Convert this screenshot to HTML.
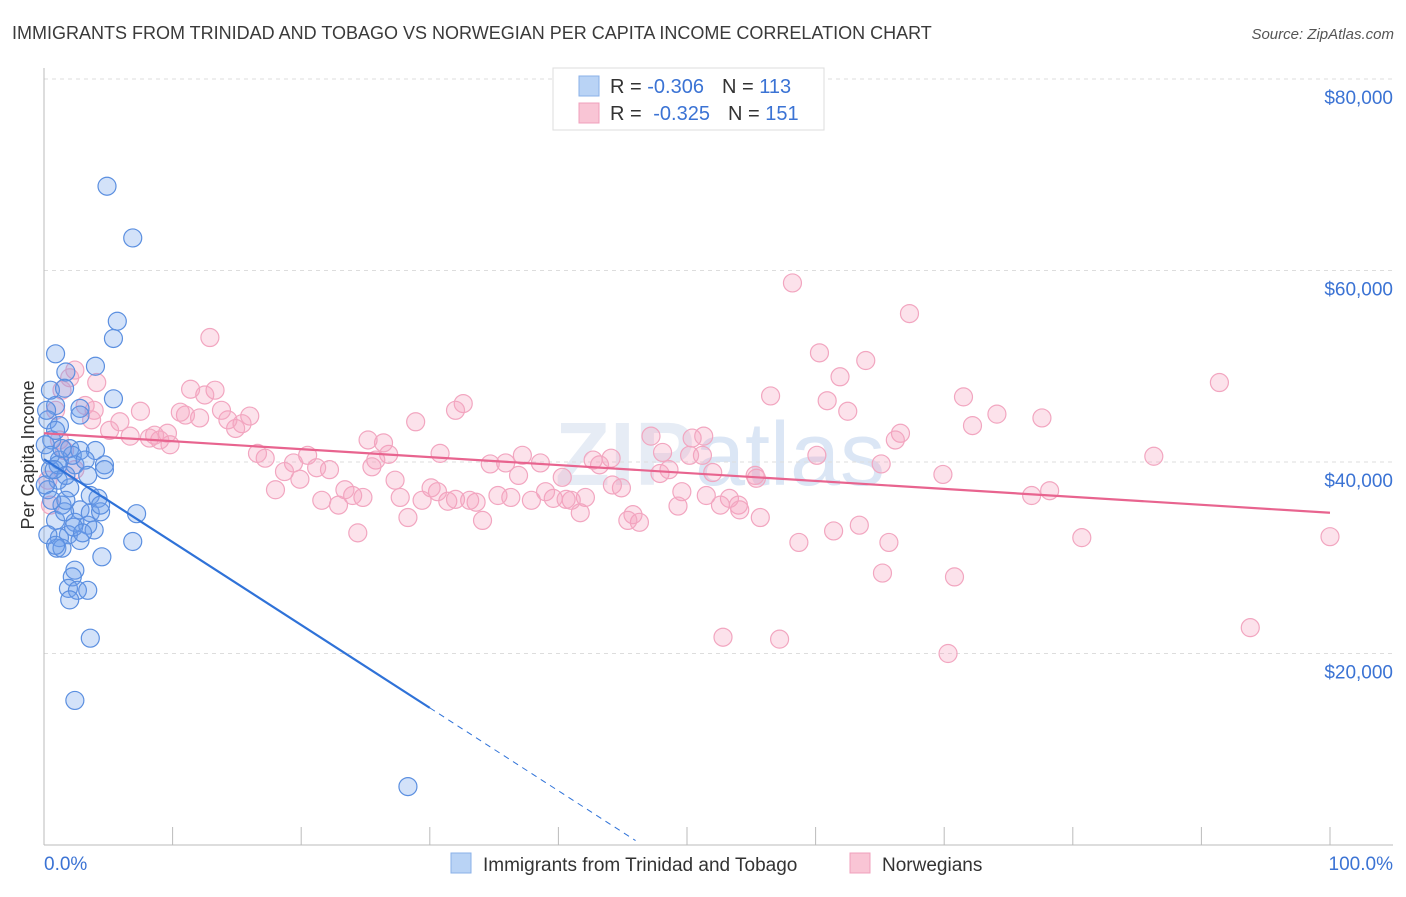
<!DOCTYPE html>
<html><head><meta charset="utf-8"><style>
body{margin:0;background:#fff;font-family:"Liberation Sans",sans-serif;}
svg text{font-family:"Liberation Sans",sans-serif;}
</style></head><body>
<svg id="chart" width="1406" height="892" xmlns="http://www.w3.org/2000/svg">
<text x="12" y="39" font-size="18" fill="#3a3a3a">IMMIGRANTS FROM TRINIDAD AND TOBAGO VS NORWEGIAN PER CAPITA INCOME CORRELATION CHART</text>
<text x="1394" y="39" font-size="15" fill="#555" font-style="italic" text-anchor="end">Source: ZipAtlas.com</text>
<text x="720" y="485" font-size="90" fill="#e6ecf5" text-anchor="middle" font-weight="bold">ZIP<tspan fill="#dbe6f5" font-weight="normal">atlas</tspan></text>
<g id="grid"></g>
<g id="axes"></g>
<g id="points"></g>
<g id="lines"></g>
<text transform="translate(34,455) rotate(-90)" font-size="18" fill="#333" text-anchor="middle">Per Capita Income</text>
<g>
<rect x="553" y="68" width="271" height="62" fill="#fff" stroke="#ddd"/>
<rect x="579" y="76" width="20" height="20" fill="#b9d3f5" stroke="#8ab0e8"/>
<rect x="579" y="103" width="20" height="20" fill="#f9c5d5" stroke="#f0a0bc"/>
<text x="610" y="93" font-size="20" fill="#333">R = <tspan fill="#3b73d4">-0.306</tspan><tspan dx="18">N = </tspan><tspan fill="#3b73d4">113</tspan></text>
<text x="610" y="120" font-size="20" fill="#333">R = <tspan fill="#3b73d4" dx="6">-0.325</tspan><tspan dx="18">N = </tspan><tspan fill="#3b73d4">151</tspan></text>
</g>
<g>
<rect x="451" y="853" width="20" height="20" fill="#b9d3f5" stroke="#8ab0e8"/>
<text x="483" y="871" font-size="19" fill="#333">Immigrants from Trinidad and Tobago</text>
<rect x="850" y="853" width="20" height="20" fill="#f9c5d5" stroke="#f0a0bc"/>
<text x="882" y="871" font-size="19" fill="#333">Norwegians</text>
</g>
</svg>
<script>
const blueX=[4.9,6.9,5.7,5.4,0.9,4.0,1.7,5.4,2.8,0.9,2.8,0.5,1.6,0.3,1.2,0.6,2.0,2.8,4.0,4.7,4.7,1.2,0.5,2.4,1.1,0.3,3.6,2.0,4.2,1.4,2.8,3.6,4.4,7.2,0.9,2.4,3.4,3.9,1.9,1.2,2.8,1.0,1.4,6.9,4.5,2.4,2.2,1.9,2.6,3.4,2.0,3.6,2.4,28.3,0.9,0.1,0.5,1.1,1.7,0.1,2.2,3.2,0.6,1.6,3.4,4.4,0.3,0.9,2.3,3.0,0.2,1.4,0.8,1.7];
const blueY=[68800,63400,54700,52900,51300,50000,49400,46600,45600,45900,44900,47500,47700,44400,43800,42300,41400,41200,41200,39700,39200,40200,39200,39700,38100,37100,36500,37300,36200,35500,35000,34700,34800,34600,33900,33700,33400,32900,32400,32100,31800,31000,31000,31700,30100,28700,28000,26800,26600,26600,25600,21600,15100,6100,43300,41800,40700,39700,38600,37600,40700,40200,36000,34800,38600,35500,32400,31300,33200,32600,45400,41400,39200,36000];
const pinkX=[12.9,58.2,67.3,60.3,63.9,61.9,91.4,56.5,71.5,60.9,62.5,74.1,77.6,72.2,66.6,66.2,60.1,65.1,69.9,86.3,76.8,78.2,80.7,100,93.8,70.3,70.8,65.2,65.7,63.4,61.4,58.7,52.8,57.2,55.7,55.4,53.3,54.0,52.0,51.2,50.4,51.3,50.2,49.6,49.3,48.1,47.2,47.9,46.3,45.8,45.4,44.9,44.1,43.2,42.7,42.1,41.7,41.0,39.6,40.3,39.0,38.6,37.2,36.9,36.3,35.9,35.3,34.7,34.1,33.6,33.1,32.6,32.0,31.4,30.8,30.6,30.1,29.4,28.9,28.3,27.7,27.3,26.8,26.4,25.8,25.5,24.8,24.4,24.0,23.4,22.9,22.2,21.6,21.2,20.5,19.9,19.4,18.7,18.0,17.2,16.6,16.0,15.4,14.9,14.3,13.8,13.3,12.5,12.1,11.4,11.0,10.6,9.8,9.6,9.0,8.6,8.2,7.5,6.7,5.9,5.1,4.1,3.9,3.7,3.2,2.4,2.0,1.4,0.9,0.5,0.3,1.2,2.4,1.6,44.2,51.5,54.1,55.3,48.6,52.6,37.9,40.6,32.0,25.2];
const pinkY=[53000,58700,55500,51400,50600,48900,48300,46900,46800,46400,45300,45000,44600,43800,43000,42300,40700,39800,38700,40600,36500,37000,32100,32200,22700,20000,28000,28400,31600,33400,32800,31600,21700,21500,34200,38300,36200,35500,38900,40700,42500,42700,40700,36900,35400,41000,42700,38800,33700,34500,33900,37300,40400,39700,40200,36300,34700,36000,36200,38400,36900,39900,40700,38600,36300,39900,36500,39800,33900,35800,36000,46100,45400,35900,40900,36900,37300,36000,44200,34200,36300,38100,40800,42000,40200,39500,36300,32600,36500,37100,35500,39200,36000,39400,40700,38200,39900,39000,37100,40400,40900,44800,44000,43500,44400,45400,47500,47000,44600,47600,44900,45200,41800,43000,42300,42800,42500,45300,42700,44200,43300,48300,45400,44400,45900,49600,48800,47500,45400,35500,38100,42300,39200,41200,37600,36500,35000,38600,39200,35500,36000,36100,36100,42300];
const yTicks=[20000,40000,60000,80000];
const yTickLabels=["$20,000","$40,000","$60,000","$80,000"];
const xTicks=[0,10,20,30,40,50,60,70,80,90,100];
const blueTrend=[40300,-866];
const pinkTrend=[43000,-83];
const NS="http://www.w3.org/2000/svg";
function sx(v){return 44+v*12.86;}
function sy(v){return 845-v*766/80000;}
function mk(tag,attrs,parent){const e=document.createElementNS(NS,tag);for(const k in attrs)e.setAttribute(k,attrs[k]);parent.appendChild(e);return e;}
const grid=document.getElementById('grid'),axes=document.getElementById('axes'),pts=document.getElementById('points'),lines=document.getElementById('lines');
yTicks.forEach((t,i)=>{
  const l=mk('line',{x1:44,x2:1393,y1:sy(t),y2:sy(t),stroke:'#ddd','stroke-dasharray':'4,4'},grid);
  
  
  const tx=mk('text',{x:1393,y:sy(t)+25,'font-size':19,fill:'#3b73d4','text-anchor':'end'},axes);
  tx.textContent=yTickLabels[i];
  
  
});
const ya=mk('line',{x1:44,x2:44,y1:68,y2:845,stroke:'#bbb'},axes);


const xa=mk('line',{x1:44,x2:1393,y1:845,y2:845,stroke:'#bbb'},axes);


xTicks.forEach(t=>{
  const l=mk('line',{x1:sx(t),x2:sx(t),y1:827,y2:845,stroke:'#bbb'},axes);
  
  
});
const xl0=mk('text',{x:44,y:870,'font-size':19,fill:'#3b73d4'},axes);xl0.textContent='0.0%';


const xl1=mk('text',{x:1393,y:870,'font-size':19,fill:'#3b73d4','text-anchor':'end'},axes);xl1.textContent='100.0%';


pinkX.forEach((x,i)=>{
  const c=mk('circle',{cx:sx(x),cy:sy(pinkY[i]),r:9,fill:'rgba(244,160,190,0.3)',stroke:'#f2a6c0','stroke-width':1.2},pts);
  
  
});
blueX.forEach((x,i)=>{
  const c=mk('circle',{cx:sx(x),cy:sy(blueY[i]),r:9,fill:'rgba(110,160,235,0.3)',stroke:'#5b8fe0','stroke-width':1.2},pts);
  
  
});
const pl=mk('line',{x1:sx(0),y1:sy(pinkTrend[0]),x2:sx(100),y2:sy(pinkTrend[0]+pinkTrend[1]*100),stroke:'#e8648f','stroke-width':2.2},lines);


const bl=mk('line',{x1:sx(0),y1:sy(blueTrend[0]),x2:sx(30),y2:sy(blueTrend[0]+blueTrend[1]*30),stroke:'#2f72d8','stroke-width':2.2},lines);


const bd=mk('line',{x1:sx(30),y1:sy(blueTrend[0]+blueTrend[1]*30),x2:sx(46),y2:sy(blueTrend[0]+blueTrend[1]*46),stroke:'#2f72d8','stroke-width':1,'stroke-dasharray':'6,5'},lines);


</script>
</body></html>
